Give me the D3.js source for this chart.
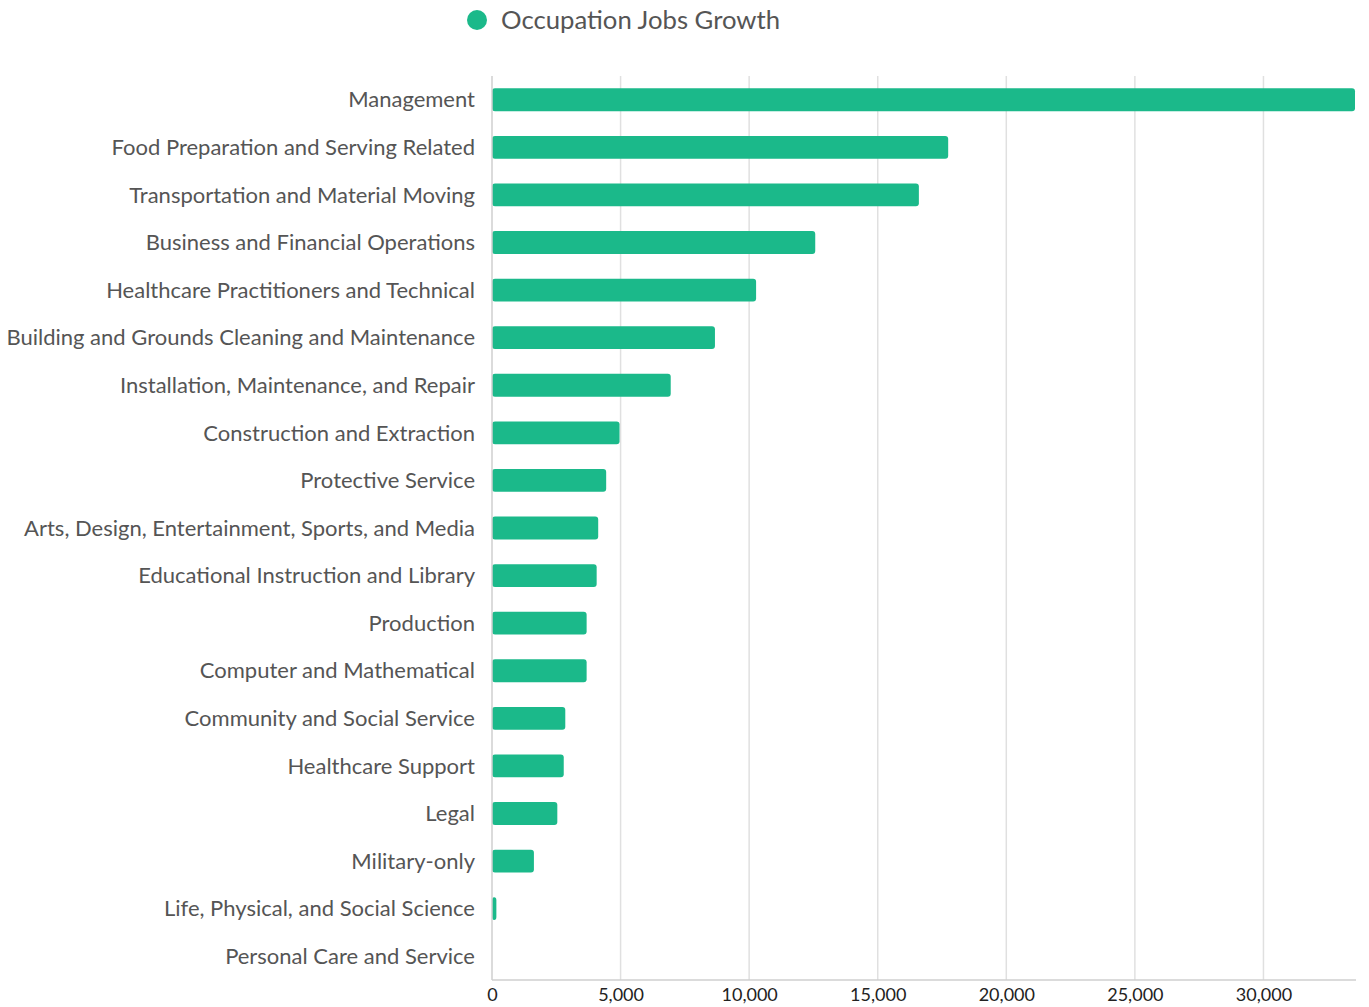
<!DOCTYPE html>
<html>
<head>
<meta charset="utf-8">
<script src="https://cdn.jsdelivr.net/npm/d3@7"></script>
<style>
  html, body { margin: 0; padding: 0; background: #fff; }
  svg { display: block; font-family: Lato, "Open Sans", sans-serif; }
</style>
</head>
<body>
<svg id="chart" width="1369" height="1007"></svg>
<script>
const categories = [
  "Management",
  "Food Preparation and Serving Related",
  "Transportation and Material Moving",
  "Business and Financial Operations",
  "Healthcare Practitioners and Technical",
  "Building and Grounds Cleaning and Maintenance",
  "Installation, Maintenance, and Repair",
  "Construction and Extraction",
  "Protective Service",
  "Arts, Design, Entertainment, Sports, and Media",
  "Educational Instruction and Library",
  "Production",
  "Computer and Mathematical",
  "Community and Social Service",
  "Healthcare Support",
  "Legal",
  "Military-only",
  "Life, Physical, and Social Science",
  "Personal Care and Service"
];
const values = [33560, 17740, 16600, 12570, 10270, 8670, 6950, 4960, 4440, 4130, 4070, 3680, 3680, 2850, 2790, 2540, 1630, 170, 0];
const xTicks = [0, 5000, 10000, 15000, 20000, 25000, 30000];
const seriesName = "Occupation Jobs Growth";
const barColor = "#1bb98a";

const svg = d3.select("#chart");
const margin = {top: 76, right: 14, bottom: 27, left: 492};
const W = 1369, H = 1007;

const x = d3.scaleLinear().domain([0, d3.max(values)]).range([margin.left, W - margin.right]);
const y = d3.scaleBand().domain(categories).range([margin.top, H - margin.bottom]).paddingInner(0.52).paddingOuter(0.26);

// gridlines
svg.append("g").selectAll("line").data(xTicks.slice(1)).join("line")
  .attr("x1", d => x(d)).attr("x2", d => x(d))
  .attr("y1", margin.top).attr("y2", H - margin.bottom)
  .attr("stroke", "#e0e0e0").attr("stroke-width", 1.5);

// bars
svg.append("g").selectAll("rect").data(values).join("rect")
  .attr("x", x(0))
  .attr("y", (d, i) => y(categories[i]))
  .attr("width", d => Math.max(0, x(d) - x(0)))
  .attr("height", y.bandwidth())
  .attr("rx", 3).attr("ry", 3)
  .attr("fill", barColor);

// left axis line
svg.append("line")
  .attr("x1", x(0)).attr("x2", x(0))
  .attr("y1", margin.top).attr("y2", H - margin.bottom)
  .attr("stroke", "#cfcfcf").attr("stroke-width", 1.5);

// bottom axis
const xAxis = svg.append("g").attr("transform", `translate(0,${H - margin.bottom})`)
  .call(d3.axisBottom(x).tickValues(xTicks).tickFormat(d3.format(",")).tickSize(0).tickPadding(8));
xAxis.select(".domain").attr("stroke", "#cfcfcf").attr("stroke-width", 1.5)
  .attr("d", `M${margin.left},0H${W - margin.right + 1}`);
xAxis.selectAll("text").attr("font-size", 18).attr("fill", "#222").attr("font-family", "Lato");

// category labels
svg.append("g").selectAll("text").data(categories).join("text")
  .attr("x", x(0) - 17)
  .attr("y", d => y(d) + y.bandwidth() / 2)
  .attr("dy", "0.35em")
  .attr("text-anchor", "end")
  .attr("font-size", 22)
  .attr("fill", "#555")
  .text(d => d);

// legend
const lg = svg.append("g");
lg.append("circle").attr("cx", 477).attr("cy", 20).attr("r", 10).attr("fill", barColor);
lg.append("text").attr("x", 501).attr("y", 20).attr("dy", "0.35em")
  .attr("font-size", 25.7).attr("fill", "#555").text(seriesName);
</script>
</body>
</html>
